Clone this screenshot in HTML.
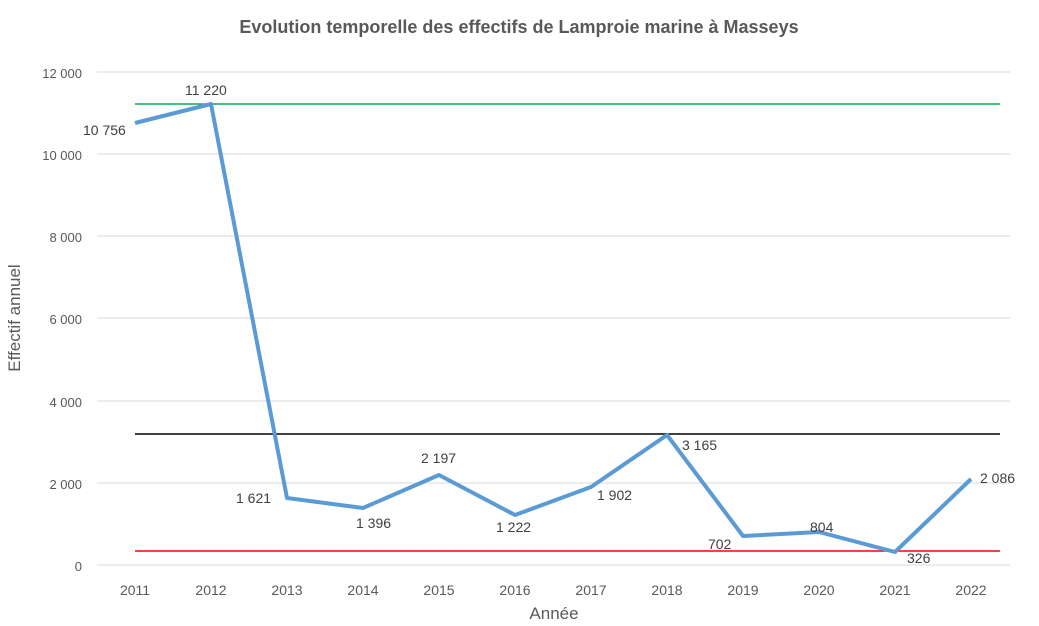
<!DOCTYPE html>
<html><head><meta charset="utf-8"><style>
body{margin:0;background:#fff}
svg{display:block}
text{font-family:"Liberation Sans",Calibri,sans-serif}
</style></head><body>
<svg width="1039" height="626" viewBox="0 0 1039 626">
<text x="519" y="33" text-anchor="middle" font-size="18" font-weight="bold" fill="#595959">Evolution temporelle des effectifs de Lamproie marine à Masseys</text>
<g stroke="#d9d9d9" stroke-width="1">
<line x1="97" y1="72" x2="1010" y2="72"/>
<line x1="97" y1="154" x2="1010" y2="154"/>
<line x1="97" y1="236" x2="1010" y2="236"/>
<line x1="97" y1="318" x2="1010" y2="318"/>
<line x1="97" y1="401" x2="1010" y2="401"/>
<line x1="97" y1="483" x2="1010" y2="483"/>
<line x1="97" y1="565" x2="1010" y2="565"/>
</g>
<g font-size="13" fill="#595959" text-anchor="end">
<text x="82" y="78">12 000</text>
<text x="82" y="160">10 000</text>
<text x="82" y="242">8 000</text>
<text x="82" y="324">6 000</text>
<text x="82" y="407">4 000</text>
<text x="82" y="489">2 000</text>
<text x="82" y="571">0</text>
</g>
<g font-size="14" fill="#595959" text-anchor="middle">
<text x="135" y="595">2011</text><text x="211" y="595">2012</text><text x="287" y="595">2013</text><text x="363" y="595">2014</text><text x="439" y="595">2015</text><text x="515" y="595">2016</text><text x="591" y="595">2017</text><text x="667" y="595">2018</text><text x="743" y="595">2019</text><text x="819" y="595">2020</text><text x="895" y="595">2021</text><text x="971" y="595">2022</text>
</g>
<text x="554" y="619" text-anchor="middle" font-size="17" fill="#595959">Année</text>
<text transform="translate(20,318) rotate(-90)" text-anchor="middle" font-size="17" fill="#595959">Effectif annuel</text>
<line x1="135" y1="104" x2="1000" y2="104" stroke="#00b050" stroke-width="1.5"/>
<line x1="135" y1="434" x2="1000" y2="434" stroke="#000" stroke-width="1.5"/>
<line x1="135" y1="551" x2="1000" y2="551" stroke="#ff0000" stroke-width="1.5"/>
<polyline fill="none" stroke="#5b9bd5" stroke-width="4" stroke-linejoin="round" points="135,123 211,104 287,498 363,508 439,475 515,515 591,487 667,435 743,536 819,532 895,552 971,479"/>
<g font-size="14" fill="#404040">
<text x="83" y="135">10 756</text>
<text x="185" y="95">11 220</text>
<text x="236" y="503">1 621</text>
<text x="356" y="528">1 396</text>
<text x="421" y="463">2 197</text>
<text x="496" y="532">1 222</text>
<text x="597" y="500">1 902</text>
<text x="682" y="450">3 165</text>
<text x="708" y="549">702</text>
<text x="810" y="532">804</text>
<text x="907" y="563">326</text>
<text x="980" y="483">2 086</text>
</g>
</svg>
</body></html>
